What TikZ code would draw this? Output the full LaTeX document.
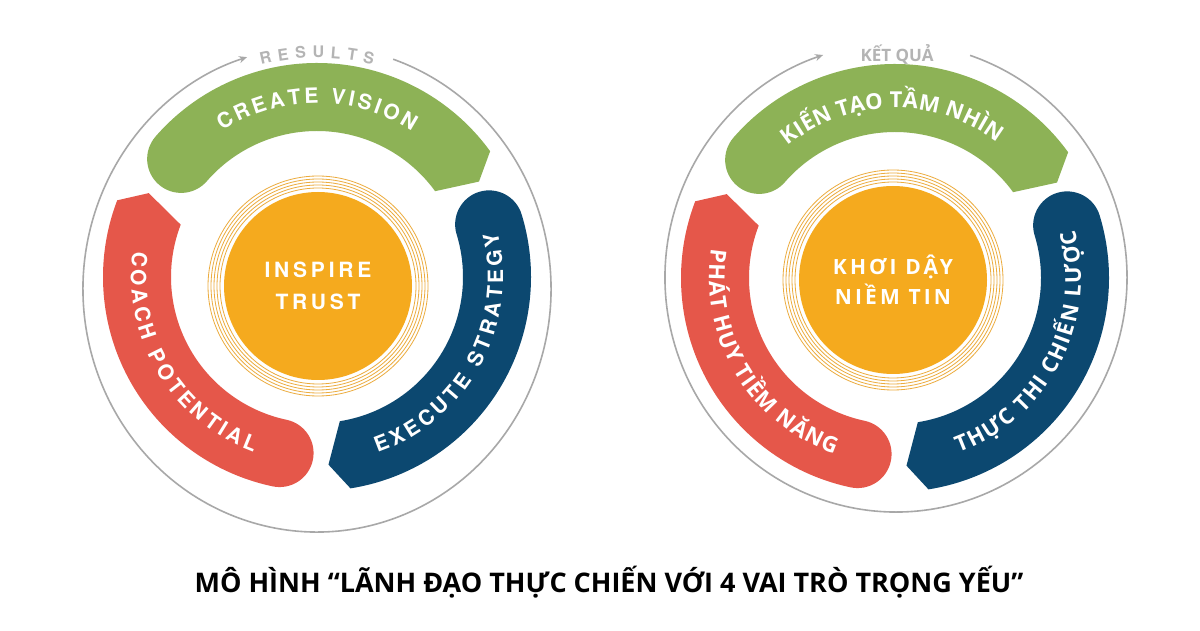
\documentclass[tikz,border=0pt]{standalone}
\usepackage{fontspec}
\usetikzlibrary{arrows.meta,decorations.text}

\newfontfamily\herosfont{TeX Gyre Heros}
\newfontfamily\herosspaced[LetterSpace=18]{TeX Gyre Heros}
\newfontfamily\opensans{Open Sans}
\newfontfamily\opensansspaced[LetterSpace=15]{Open Sans}

\newcommand\bandfont{\herosfont\bfseries\fontsize{21}{25}\selectfont}
\newcommand\viefont{\opensans\bfseries\fontsize{22}{26}\selectfont}
\newcommand\resultfont{\herosfont\bfseries\fontsize{16}{19}\selectfont}

\definecolor{leafgreen}{RGB}{141,178,86}
\definecolor{navyblue}{RGB}{12,72,112}
\definecolor{coralred}{RGB}{229,87,74}
\definecolor{coreorange}{RGB}{245,170,30}
\definecolor{goldline}{RGB}{236,172,62}
\definecolor{ringgray}{RGB}{168,168,168}
\definecolor{labelgray}{RGB}{180,180,180}

\tikzset{
  outerring/.style={draw=ringgray, line width=1.6pt, -{Stealth[length=8pt,width=7pt]}},
  goldring/.style={draw=goldline, line width=0.8pt},
  coredisk/.style={circle, fill=coreorange, minimum size=188pt, inner sep=0pt,
    text=white, align=center},
  bandtext/.style={decorate, decoration={text along path, text={#1},
    text align=fit to path, text color=white}},
  ringtext/.style={decorate, decoration={text along path, text={#1},
    text align=fit to path, text color=labelgray}},
}

\begin{document}
\begin{tikzpicture}[x=1pt, y=1pt]
  \useasboundingbox (0,0) rectangle (1200,630);
  \fill[white] (0,0) rectangle (1200,630);

  % Left wheel
  \begin{scope}[shift={(317,353)}]
    % Results loop
    \draw[outerring, shift={(0,-12)}] (71:234pt and 243pt)
      arc[start angle=71, end angle=-252.6, x radius=234pt, y radius=243pt];
    \path[ringtext={|\resultfont|RESULTS}, shift={(0,-12)}]
      (104:231pt) arc[start angle=104, end angle=76, radius=231pt];

    % Role bands
    \foreach \col/\ta/\hb in {leafgreen/139/36, navyblue/17/-81, coralred/258/159}
      \fill[\col] (\ta:214pt) arc[start angle=\ta, end angle=\hb, radius=214pt]
        -- ({\hb-5.5}:188pt) -- (\hb:146pt)
        arc[start angle=\hb, end angle=\ta, radius=146pt]
        arc[start angle=\ta+180, end angle=\ta, radius=34pt] -- cycle;

    % Band labels
    \path[bandtext={|\bandfont|CREATE VISION}]
      (123:174pt) arc[start angle=123, end angle=57, radius=174pt];
    \path[bandtext={|\bandfont|EXECUTE STRATEGY}]
      (-71:186pt) arc[start angle=-71, end angle=14, radius=186pt];
    \path[bandtext={|\bandfont|COACH POTENTIAL}]
      (172:186pt) arc[start angle=172, end angle=250, radius=186pt];

    % Core
    \foreach \r in {98,101,104,107,110}
      \draw[goldring] (1,-9) circle[radius=\r pt];
    \node[coredisk, font=\herosspaced\bfseries\fontsize{21}{32}\selectfont]
      (inspire) at (1,-9) {INSPIRE\\TRUST};
  \end{scope}

  % Right wheel
  \begin{scope}[shift={(895,352)}]
    % Results loop
    \draw[outerring, shift={(1,0.5)}] (71.3:231pt and 234.5pt)
      arc[start angle=71.3, end angle=-251.6, x radius=231pt, y radius=234.5pt];
    \node[font=\opensans\bfseries\fontsize{17}{20}\selectfont, text=labelgray,
      anchor=base] (ketqua) at (2,216) {KẾT QUẢ};

    % Role bands
    \foreach \col/\ta/\hb in {leafgreen/139/36, navyblue/17/-81, coralred/258/159}
      \fill[\col] (\ta:214pt) arc[start angle=\ta, end angle=\hb, radius=214pt]
        -- ({\hb-5.5}:188pt) -- (\hb:146pt)
        arc[start angle=\hb, end angle=\ta, radius=146pt]
        arc[start angle=\ta+180, end angle=\ta, radius=34pt] -- cycle;

    % Band labels
    \path[bandtext={|\viefont|KIẾN TẠO TẦM NHÌN}]
      (129:170pt) arc[start angle=129, end angle=53, radius=170pt];
    \path[bandtext={|\viefont|THỰC THI CHIẾN LƯỢC}]
      (-70:186pt) arc[start angle=-70, end angle=15, radius=186pt];
    \path[bandtext={|\viefont|PHÁT HUY TIỀM NĂNG}]
      (171:186pt) arc[start angle=171, end angle=251, radius=186pt];

    % Core
    \foreach \r in {98,101,104,107,110}
      \draw[goldring] (-2,-2) circle[radius=\r pt];
    \node[coredisk, font=\opensansspaced\bfseries\fontsize{21}{30}\selectfont]
      (khoiday) at (-2,-2) {KHƠI DẬY\\NIỀM TIN};
  \end{scope}

  % Caption
  \node[font=\opensans\bfseries\fontsize{27}{32}\selectfont, anchor=base]
    (caption) at (609,38) {MÔ HÌNH “LÃNH ĐẠO THỰC CHIẾN VỚI 4 VAI TRÒ TRỌNG YẾU”};
\end{tikzpicture}
\end{document}
